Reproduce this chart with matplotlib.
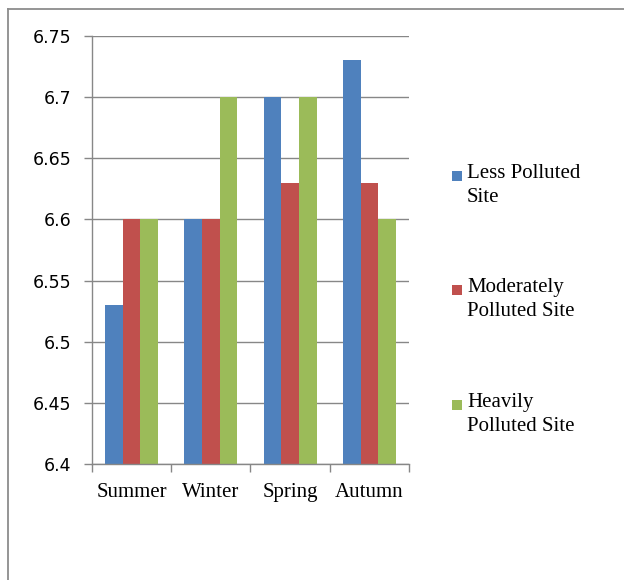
import matplotlib
matplotlib.use("Agg")
import matplotlib.pyplot as plt
from matplotlib.lines import Line2D
from matplotlib.patches import Rectangle
import numpy as np

seasons = ["Summer", "Winter", "Spring", "Autumn"]
series_names = ["Less Polluted\nSite", "Moderately\nPolluted Site", "Heavily\nPolluted Site"]
less_polluted = [6.53, 6.60, 6.70, 6.73]
moderately_polluted = [6.60, 6.60, 6.63, 6.63]
heavily_polluted = [6.60, 6.70, 6.70, 6.60]
yticks = [6.4, 6.45, 6.5, 6.55, 6.6, 6.65, 6.7, 6.75]
ytick_labels = ["6.4", "6.45", "6.5", "6.55", "6.6", "6.65", "6.7", "6.75"]

colors = ["#4F81BD", "#C0504D", "#9BBB59"]
grid_grey = "#878787"
serif = "Liberation Serif"

fig = plt.figure(figsize=(6.24, 5.8), dpi=100)
ax = fig.add_axes([0.1474, 0.2, 0.508, 0.7379])

x = np.arange(len(seasons))
width = 1 / 4.5  # Excel default gap width of 150%
all_series = [less_polluted, moderately_polluted, heavily_polluted]
for i, (vals, col) in enumerate(zip(all_series, colors)):
    ax.bar(x + (i - 1) * width, np.array(vals) - 6.4, width, bottom=6.4,
           color=col, linewidth=0, zorder=2)

ax.set_xlim(-0.5, len(seasons) - 0.5)
ax.set_ylim(6.4, 6.75)
ax.set_yticks(yticks)
ax.set_yticklabels(ytick_labels, fontsize=12.5, family="DejaVu Sans")
ax.yaxis.grid(True, color=grid_grey, linewidth=1.0, zorder=0)
ax.set_axisbelow(True)

ax.set_xticks(x)
ax.set_xticklabels(seasons, fontsize=15, family=serif)
ax.set_xticks(np.arange(-0.5, len(seasons)), minor=True)
ax.tick_params(axis="x", which="major", length=0, pad=14)
ax.tick_params(axis="x", which="minor", length=6, width=1.0, color=grid_grey)
ax.tick_params(axis="y", length=6, width=1.0, color=grid_grey, pad=9)

for side in ["top", "right"]:
    ax.spines[side].set_visible(False)
for side in ["left", "bottom"]:
    ax.spines[side].set_color(grid_grey)
    ax.spines[side].set_linewidth(1.0)

# legend drawn by hand so each swatch lines up with the first text line
W, H = 624, 580
legend_rows = [176, 290, 405]
for name, col, row in zip(series_names, colors, legend_rows):
    fig.add_artist(Rectangle((452 / W, 1 - (row + 5) / H), 10 / W, 10 / H,
                             transform=fig.transFigure, color=col, linewidth=0))
    fig.text(467 / W, 1 - (row - 12) / H, name, fontsize=15, family=serif,
             va="top", ha="left", linespacing=1.35)

# outer chart border
fig.add_artist(Line2D([8 / W, 8 / W], [0, 1 - 9 / H], transform=fig.transFigure,
                      color="#8c8c8c", linewidth=1.3))
fig.add_artist(Line2D([8 / W, 1], [1 - 9 / H, 1 - 9 / H], transform=fig.transFigure,
                      color="#8c8c8c", linewidth=1.3))

fig.savefig("out.png", dpi=100)
